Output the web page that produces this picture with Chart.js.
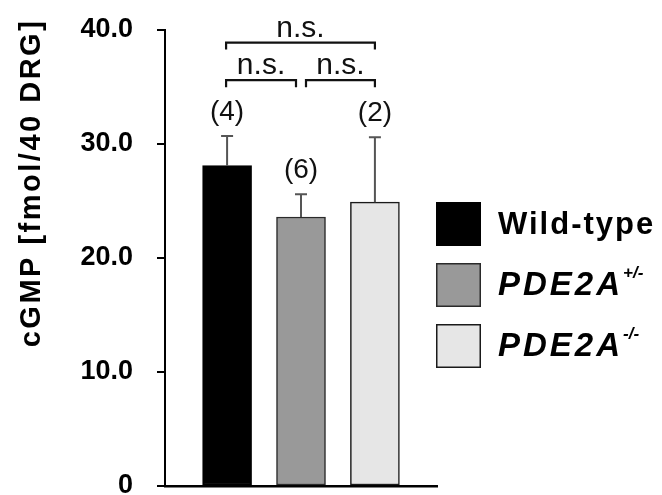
<!DOCTYPE html>
<html lang="en">
<head>
  <meta charset="UTF-8" />
  <title>cGMP in DRG</title>
  <script src="https://cdn.jsdelivr.net/npm/chart.js"></script>
  <style>
    body { margin:0; background:#fff; }
    #wrap { width:662px; height:495px; }
  </style>
</head>
<body>
  <div id="wrap"><canvas id="chart" width="662" height="495"></canvas></div>

  <script>
    // data
    const categories   = ['Wild-type', 'PDE2A', 'PDE2A'];
    const superscripts = ['', '+/-', '-/-'];
    const means        = [28.1, 23.6, 24.9];
    const sems         = [2.6, 2.0, 5.7];
    const nLabels      = ['(4)', '(6)', '(2)'];
    const yTickValues  = [0, 10, 20, 30, 40];
    const yTickLabels  = ['0', '10.0', '20.0', '30.0', '40.0'];
    const barColors    = ['#000000', '#999999', '#e6e6e6'];
    const barBorders   = ['#000000', '#2a2a2a', '#1a1a1a'];
    // significance brackets: bar index from/to, level in y units
    const brackets = [
      { from: 0, to: 2, level: 38.9, text: 'n.s.' },
      { from: 0, to: 1, level: 35.6, text: 'n.s.' },
      { from: 1, to: 2, level: 35.6, text: 'n.s.' }
    ];

    const FONT = '"Liberation Sans", Arial, Helvetica, sans-serif';

    const overlay = {
      id: 'overlay',
      afterDatasetsDraw(chart) {
        const ctx = chart.ctx;
        const xs = chart.scales.x, ys = chart.scales.y;
        ctx.save();

        // error bars (upper only) + n labels
        ctx.strokeStyle = '#555';
        ctx.lineWidth = 2;
        means.forEach((m, i) => {
          const x = xs.getPixelForValue(i + 1);
          const y0 = ys.getPixelForValue(m);
          const y1 = ys.getPixelForValue(m + sems[i]);
          ctx.beginPath();
          ctx.moveTo(x, y0); ctx.lineTo(x, y1);
          ctx.moveTo(x - 6, y1); ctx.lineTo(x + 6, y1);
          ctx.stroke();
          ctx.fillStyle = '#111';
          ctx.font = '28px ' + FONT;
          ctx.textAlign = 'center';
          ctx.textBaseline = 'middle';
          ctx.fillText(nLabels[i], x, y1 - 24);
        });

        // brackets
        ctx.strokeStyle = '#111';
        ctx.lineWidth = 2.2;
        brackets.forEach(b => {
          let xa = xs.getPixelForValue(b.from + 1) - 1;
          let xb = xs.getPixelForValue(b.to + 1);
          if (b.to - b.from === 1) {
            if (b.from === 0) xb -= 5; else xa += 6;
          }
          const y = ys.getPixelForValue(b.level);
          ctx.beginPath();
          ctx.moveTo(xa, y + 7); ctx.lineTo(xa, y); ctx.lineTo(xb, y); ctx.lineTo(xb, y + 7);
          ctx.stroke();
          ctx.fillStyle = '#111';
          ctx.font = '30px ' + FONT;
          ctx.textAlign = 'center';
          ctx.textBaseline = 'middle';
          ctx.fillText(b.text, (xa + xb) / 2, y - 14);
        });

        // legend
        categories.forEach((c, i) => {
          const bx = 436, by = 202 + i * 61;
          ctx.fillStyle = barColors[i];
          ctx.fillRect(bx, by, 45, 44);
          ctx.strokeStyle = barBorders[i];
          ctx.lineWidth = 1.5;
          ctx.strokeRect(bx + 0.75, by + 0.75, 43.5, 42.5);
          ctx.fillStyle = '#000';
          ctx.textAlign = 'left';
          ctx.textBaseline = 'middle';
          ctx.letterSpacing = i === 0 ? '2px' : '3px';
          ctx.font = (i === 0 ? 'bold ' : 'italic bold ') + (i === 0 ? '31px ' : '33px ') + FONT;
          ctx.fillText(c, 498, by + 23);
          if (superscripts[i]) {
            const w = ctx.measureText(c).width;
            ctx.letterSpacing = '0px';
            ctx.font = 'italic bold 17px ' + FONT;
            ctx.fillText(superscripts[i], 498 + w, by + 10);
          }
          ctx.letterSpacing = '0px';
        });

        // y axis title
        ctx.translate(32, 183);
        ctx.rotate(-Math.PI / 2);
        ctx.fillStyle = '#000';
        ctx.font = 'bold 29px ' + FONT;
        ctx.letterSpacing = '2.5px';
        ctx.textAlign = 'center';
        ctx.textBaseline = 'middle';
        ctx.fillText('cGMP [fmol/40 DRG]', 0, 0);
        ctx.restore();
      }
    };

    new Chart(document.getElementById('chart'), {
      type: 'bar',
      data: {
        labels: categories,
        datasets: [{
          data: means.map((m, i) => ({ x: i + 1, y: m })),
          backgroundColor: barColors,
          borderColor: barBorders,
          borderWidth: 1.5,
          borderSkipped: false,
          barThickness: 49
        }]
      },
      options: {
        responsive: false,
        animation: false,
        layout: { padding: { left: 0, right: 225, top: 30, bottom: 9 } },
        plugins: { legend: { display: false }, tooltip: { enabled: false } },
        scales: {
          x: {
            type: 'linear',
            offset: false,
            min: 0.16, max: 3.84,
            ticks: { display: false },
            grid: { display: false, offset: false },
            border: { color: '#000', width: 2.5 },
            afterFit: s => { s.height = 0; }
          },
          y: {
            min: 0, max: 40,
            afterBuildTicks: s => { s.ticks = yTickValues.map(v => ({ value: v })); },
            ticks: {
              callback: (v, i) => yTickLabels[i],
              color: '#000',
              padding: 24,
              font: { family: FONT, size: 27, weight: 'bold' }
            },
            grid: { drawOnChartArea: false, tickLength: 8, color: '#000', lineWidth: 2 },
            border: { color: '#000', width: 2 },
            afterFit: s => { s.width = 165; s.paddingTop = 0; s.paddingBottom = 0; }
          }
        }
      },
      plugins: [overlay]
    });
  </script>
</body>
</html>
